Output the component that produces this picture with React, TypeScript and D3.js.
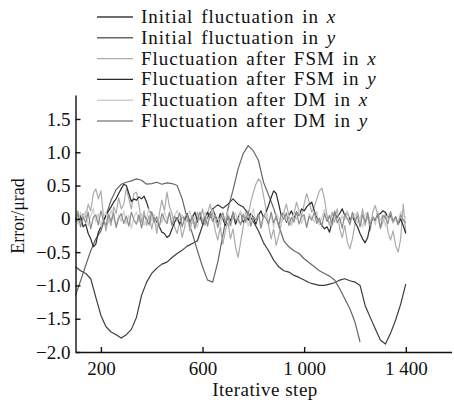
import { useEffect, useRef } from 'react';
import * as d3 from 'd3';

// sampling grids of the iteration axis
const fineSteps = d3.range(100, 1401, 10);
const coarseSteps = d3.range(100, 1401, 20);

const initialX = [
  -0.72, -0.78, -0.82, -0.9, -1.18, -1.45, -1.62, -1.7, -1.74, -1.79,
  -1.74, -1.66, -1.48, -1.15, -0.95, -0.82, -0.74, -0.68, -0.65, -0.58,
  -0.52, -0.47, -0.41, -0.37, -0.33, -0.1, 0.02, 0.15, 0.21, 0.16,
  0.22, 0.3, 0.22, 0.18, 0.08, -0.04, -0.18, -0.36, -0.48, -0.62,
  -0.72, -0.78, -0.8, -0.85, -0.88, -0.92, -0.96, -0.98, -1.0, -1.0,
  -0.98, -0.96, -0.92, -0.9, -0.93, -0.95, -1.0, -1.3, -1.48, -1.65,
  -1.82, -1.88, -1.72, -1.52, -1.28, -0.98,
];

const initialY = [
  -1.15, -0.93, -0.7, -0.48, -0.3, -0.18, 0.05, 0.28, 0.44, 0.52,
  0.55, 0.57, 0.6, 0.58, 0.52, 0.53, 0.55, 0.52, 0.54, 0.53,
  0.5, 0.3, 0.0, -0.22, -0.48, -0.72, -0.92, -0.95, -0.65, -0.25,
  0.15, 0.43, 0.75, 0.98, 1.1, 1.02, 0.88, 0.55, 0.36, 0.16,
  -0.1, -0.33, -0.42, -0.48, -0.52, -0.6, -0.66, -0.72, -0.78, -0.82,
  -0.86, -0.92, -1.05, -1.2, -1.35, -1.55, -1.85,
];

const fsmX = [
  0.05, 0.12, -0.05, 0.08, 0.02, 0.22, 0.12, 0.38, 0.45, 0.3,
  0.42, 0.05, -0.18, 0.02, -0.1, 0.18, 0.08, 0.32, 0.15, 0.22,
  0.45, 0.3, 0.15, 0.38, 0.4, 0.2, -0.05, 0.12, -0.1, 0.05,
  -0.15, 0.02, -0.22, 0.08, 0.28, 0.12, 0.4, 0.18, 0.08, -0.12,
  -0.22, -0.05, -0.28, -0.12, 0.05, -0.18, -0.02, -0.08, 0.1, -0.02,
  0.15, -0.1, 0.08, 0.22, 0.05, -0.18, -0.32, -0.12, -0.38, -0.18,
  -0.05, -0.3, -0.15, -0.42, -0.58, -0.35, -0.12, 0.1, 0.05, 0.25,
  0.4, 0.52, 0.6, 0.55, 0.35, 0.15, -0.1, -0.3, -0.15, -0.4,
  -0.25, -0.08, 0.1, 0.22, 0.05, -0.1, 0.08, 0.25, 0.12, 0.05,
  0.22, 0.38, 0.25, 0.1, 0.18, 0.3, 0.42, 0.46, 0.3, 0.05,
  -0.1, 0.1, -0.05, 0.15, -0.15, -0.28, -0.1, -0.35, -0.45, -0.3,
  -0.08, 0.1, -0.05, 0.15, -0.1, 0.05, -0.18, 0.1, 0.2, 0.05,
  -0.15, -0.05, 0.08, -0.2, -0.32, -0.18, -0.4, -0.5, -0.3, 0.22,
  -0.2,
];

const fsmY = [
  0.02, -0.05, 0.05, -0.12, -0.08, -0.22, -0.3, -0.42, -0.38, -0.2,
  -0.12, -0.02, 0.05, 0.12, 0.18, 0.25, 0.3, 0.38, 0.45, 0.52,
  0.5, 0.38, 0.26, 0.3, 0.28, 0.33, 0.3, 0.34, 0.25, 0.12,
  0.08, 0.02, -0.05, -0.12, -0.2, -0.22, -0.28, -0.25, -0.15, -0.05,
  0.02, -0.08, 0.05, -0.02, 0.08, -0.05, 0.02, 0.1, -0.05, 0.05,
  -0.08, 0.03, 0.1, 0.02, 0.15, 0.05, -0.05, 0.08, 0.0, -0.1,
  0.05, -0.03, 0.08, -0.08, 0.02, 0.1, -0.05, 0.05, -0.02, 0.08,
  0.02, -0.08, 0.05, 0.12, 0.02, 0.1, 0.2, 0.32, 0.42, 0.38,
  0.22, 0.05, 0.1, -0.05, 0.05, 0.12, 0.02, 0.1, 0.05, 0.15,
  0.12, 0.18, 0.22, 0.25, 0.12, 0.02, -0.05, -0.1, -0.15, -0.12,
  -0.2, -0.05, 0.1, 0.02, 0.08, 0.15, 0.05, 0.1, -0.02, 0.04,
  -0.05, -0.12, -0.22, -0.3, -0.36, -0.28, -0.1, 0.02, -0.03, 0.05,
  0.08, 0.12, 0.1, 0.02, 0.05, -0.05, 0.03, -0.08, 0.0, -0.1,
  -0.22,
];

const dmX = [
  0.05, -0.08, 0.1, -0.02, 0.12, -0.1, 0.04, 0.15, -0.05, 0.08,
  -0.12, 0.02, 0.1, -0.06, 0.14, 0.0, -0.1, 0.06, -0.04, 0.12,
  -0.08, 0.05, -0.14, 0.03, 0.1, -0.05, 0.08, -0.1, 0.02, 0.16,
  -0.03, 0.07, -0.12, 0.04, -0.06, 0.11, -0.02, 0.09, -0.11, 0.05,
  0.13, -0.04, 0.06, -0.09, 0.02, 0.12, -0.07, 0.03, -0.13, 0.08,
  -0.01, 0.1, -0.08, 0.05, 0.14, -0.06, 0.02, -0.1, 0.07, -0.03,
  0.11, -0.12, 0.04, 0.09, -0.05, 0.12, -0.02, 0.06, -0.11, 0.03,
  0.15, -0.04, 0.08, -0.09, 0.01, 0.1, -0.06, 0.05, -0.13, 0.07,
  0.02, -0.08, 0.12, -0.03, 0.06, -0.1, 0.09, -0.01, 0.13, -0.07,
  0.04, -0.12, 0.08, 0.02, -0.05, 0.11, -0.09, 0.03, 0.14, -0.04,
  0.06, -0.11, 0.02, 0.09, -0.07, 0.05, -0.02, 0.12, -0.1, 0.04,
  0.08, -0.06, 0.01, -0.13, 0.07, 0.1, -0.04, 0.03, -0.09, 0.12,
  -0.02, 0.06, -0.11, 0.05, 0.09, -0.07, 0.02, -0.05, 0.11, -0.03,
  0.04,
];

const dmY = [
  -0.05, 0.08, -0.12, 0.03, -0.06, 0.1, -0.15, 0.02, 0.06, -0.09,
  0.12, -0.03, -0.1, 0.07, -0.04, 0.09, -0.13, 0.01, 0.08, -0.07,
  0.04, -0.11, 0.1, -0.02, -0.08, 0.06, -0.14, 0.05, 0.0, -0.09,
  0.11, -0.05, 0.03, -0.12, 0.08, -0.01, -0.07, 0.1, -0.1, 0.04,
  -0.03, 0.09, -0.12, 0.02, 0.07, -0.08, 0.05, -0.15, 0.01, 0.1,
  -0.06, 0.03, -0.11, 0.08, -0.04, 0.06, -0.13, 0.02, 0.09, -0.07,
  0.04, -0.1, 0.11, -0.03, 0.0, -0.09, 0.07, -0.05, 0.12, -0.11,
  0.03, -0.02, 0.08, -0.14, 0.05, 0.01, -0.08, 0.1, -0.06, 0.04,
  -0.12, 0.07, -0.01, 0.09, -0.1, 0.02, -0.05, 0.11, -0.08, 0.03,
  0.06, -0.13, 0.04, -0.02, 0.1, -0.07, 0.01, -0.11, 0.08, -0.04,
  0.05, -0.09, 0.12, -0.06, 0.02, -0.14, 0.07, 0.0, -0.08, 0.1,
  -0.03, 0.04, -0.12, 0.06, -0.05, 0.09, -0.1, 0.03, -0.01, 0.08,
  -0.13, 0.05, 0.02, -0.07, 0.11, -0.04, 0.03, -0.09, 0.06, -0.02,
  -0.06,
];

const series = [
  { label: 'Initial fluctuation in ', dir: 'x', steps: coarseSteps, values: initialX, color: '#3c3c3c' },
  { label: 'Initial fluctuation in ', dir: 'y', steps: coarseSteps, values: initialY, color: '#666666' },
  { label: 'Fluctuation after FSM in ', dir: 'x', steps: fineSteps, values: fsmX, color: '#ababab' },
  { label: 'Fluctuation after FSM in ', dir: 'y', steps: fineSteps, values: fsmY, color: '#2a2a2a' },
  { label: 'Fluctuation after DM in ', dir: 'x', steps: fineSteps, values: dmX, color: '#cfcfcf' },
  { label: 'Fluctuation after DM in ', dir: 'y', steps: fineSteps, values: dmY, color: '#8c8c8c' },
];

const yTicks = [-2, -1.5, -1, -0.5, 0, 0.5, 1, 1.5];
const xTicks = [200, 600, 1000, 1400];

const FONT = '"Liberation Serif", "Times New Roman", serif';

export default function App() {
  const svgRef = useRef<SVGSVGElement>(null);

  useEffect(() => {
    if (!svgRef.current) return;
    const svg = d3.select(svgRef.current);
    svg.selectAll('*').remove();

    const x = d3.scaleLinear().domain([100, 1580]).range([75.5, 451.5]);
    const y = d3.scaleLinear().domain([-2, 1.86]).range([352, 95]);

    const line = d3.line<[number, number]>()
      .x(d => x(d[0]))
      .y(d => y(d[1]));

    // curves
    series.forEach(s => {
      const pts = s.values.map((v, i) => [s.steps[i], v] as [number, number]);
      svg.append('path')
        .datum(pts)
        .attr('fill', 'none')
        .attr('stroke', s.color)
        .attr('stroke-width', 1.2)
        .attr('stroke-linejoin', 'round')
        .attr('d', line);
    });

    // axes
    const fmtY = (d: number) => (d === 0 ? '0' : d3.format('.1f')(d));
    const fmtX = (d: number) => (d >= 1000 ? `${Math.floor(d / 1000)} ${String(d % 1000).padStart(3, '0')}` : String(d));

    const gy = svg.append('g')
      .attr('transform', `translate(${x(100)},0)`)
      .call(d3.axisLeft(y).tickValues(yTicks).tickFormat(d => fmtY(d as number)).tickSizeInner(-5).tickSizeOuter(0).tickPadding(5));
    const gx = svg.append('g')
      .attr('transform', `translate(0,${y(-2)})`)
      .call(d3.axisBottom(x).tickValues(xTicks).tickFormat(d => fmtX(d as number)).tickSizeInner(-5).tickSizeOuter(0).tickPadding(10));

    [gy, gx].forEach(g => {
      g.attr('font-family', FONT).attr('font-size', 19);
      g.selectAll('path, line').attr('stroke', '#111').attr('stroke-width', 1.4);
      g.selectAll('text').attr('fill', '#111');
    });

    // axis titles
    svg.append('text')
      .attr('x', 265)
      .attr('y', 396)
      .attr('text-anchor', 'middle')
      .attr('font-family', FONT)
      .attr('font-size', 19)
      .attr('letter-spacing', 0.5)
      .attr('fill', '#111')
      .text('Iterative step');

    svg.append('text')
      .attr('transform', 'translate(24,216) rotate(-90)')
      .attr('text-anchor', 'middle')
      .attr('font-family', FONT)
      .attr('font-size', 18)
      .attr('fill', '#111')
      .text('Error/μrad');

    // legend
    const legend = svg.append('g').attr('font-family', FONT).attr('font-size', 19);
    series.forEach((s, i) => {
      const ry = 17 + i * 20.8;
      legend.append('line')
        .attr('x1', 97).attr('x2', 133)
        .attr('y1', ry).attr('y2', ry)
        .attr('stroke', s.color)
        .attr('stroke-width', 1.4);
      const t = legend.append('text')
        .attr('x', 141)
        .attr('y', ry + 6)
        .attr('fill', '#111')
        .attr('letter-spacing', 1)
        .attr('word-spacing', 2);
      t.append('tspan').text(s.label);
      t.append('tspan').attr('font-style', 'italic').text(s.dir);
    });
  }, []);

  return (
    <svg
      ref={svgRef}
      width={454}
      height={400}
      style={{ position: 'absolute', left: 0, top: 0, background: '#fff' }}
    />
  );
}
